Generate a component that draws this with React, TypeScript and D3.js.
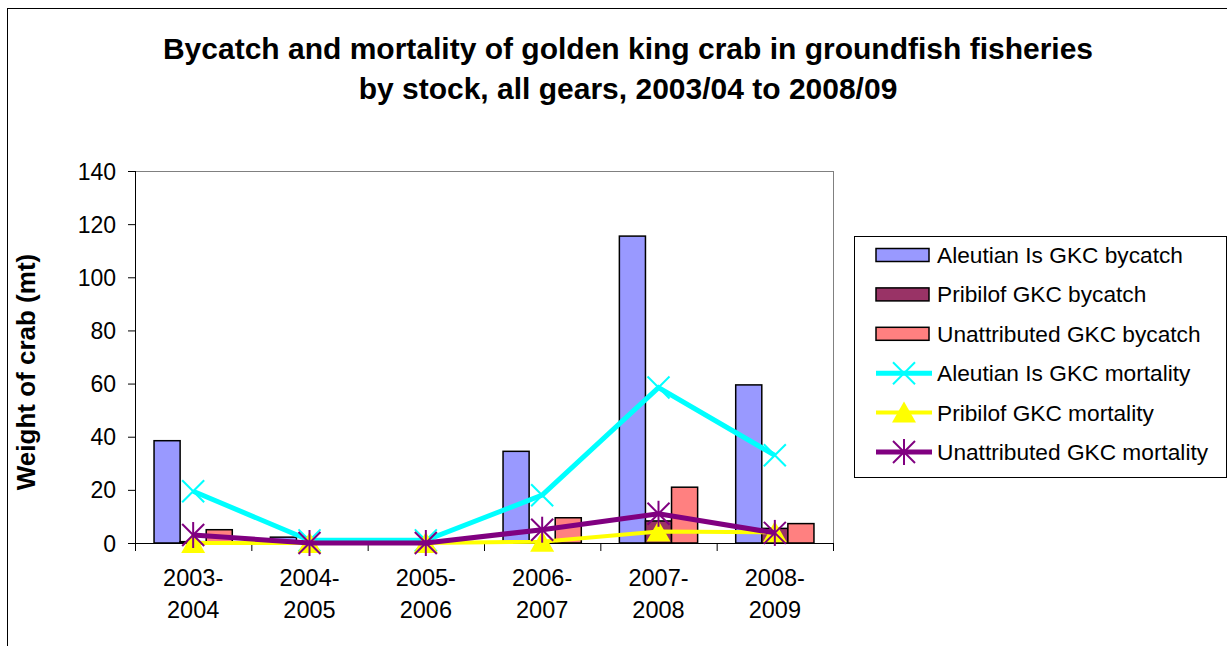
import React from "react";
import * as d3 from "d3";

const categories = ["2003-2004", "2004-2005", "2005-2006", "2006-2007", "2007-2008", "2008-2009"];
const barSeries = ["Aleutian Is GKC bycatch", "Pribilof GKC bycatch", "Unattributed GKC bycatch"];
const aleutianBycatch = [38.5, 2.2, 1.5, 34.5, 115.5, 59.5];
const pribilofBycatch = [0.5, 0, 0, 0.5, 8.3, 5.5];
const unattribBycatch = [5, 0.3, 0.2, 9.5, 21, 7.3];
const aleutianMort = [19.5, 1, 1, 18, 58.5, 33];
const pribilofMort = [0, 0, 0, 0.5, 4.3, 4];
const unattribMort = [3, 0, 0, 5, 11, 3.8];
const yTicks = [0, 20, 40, 60, 80, 100, 120, 140];
const lineSeries = ["Aleutian Is GKC mortality", "Pribilof GKC mortality", "Unattributed GKC mortality"];

const barColors = ["#9999FF", "#993366", "#FF8080"];
const lineColors = ["#00FFFF", "#FFFF00", "#800080"];
const FONT = "Liberation Sans, Arial, sans-serif";

function Marker({ kind, x, y, color }: { kind: number; x: number; y: number; color: string }) {
  const s = 11;
  if (kind === 0) {
    return (
      <g stroke={color} strokeWidth={2}>
        <line x1={x - s} y1={y - s} x2={x + s} y2={y + s} />
        <line x1={x - s} y1={y + s} x2={x + s} y2={y - s} />
      </g>
    );
  }
  if (kind === 1) {
    return <path d={`M${x},${y - 11}L${x + 12},${y + 10}L${x - 12},${y + 10}Z`} fill={color} />;
  }
  return (
    <g stroke={color} strokeWidth={2}>
      <line x1={x - s} y1={y - s} x2={x + s} y2={y + s} />
      <line x1={x - s} y1={y + s} x2={x + s} y2={y - s} />
      <line x1={x} y1={y - s - 2} x2={x} y2={y + s + 2} />
    </g>
  );
}

export default function App() {
  const left = 135, right = 833, top = 171, bottom = 543;
  const x = d3.scaleBand<string>().domain(categories).range([left, right]).padding(0);
  const y = d3.scaleLinear().domain([0, 140]).range([bottom, top]);
  const inner = d3.scaleBand<string>().domain(barSeries).range([0, x.bandwidth()]).paddingInner(0).paddingOuter(0.73);
  const barData = [aleutianBycatch, pribilofBycatch, unattribBycatch];
  const lineData = [aleutianMort, pribilofMort, unattribMort];
  const lineWidths = [5, 4, 5];
  const cx = (c: string) => (x(c) as number) + x.bandwidth() / 2;
  const lineGen = (vals: number[]) =>
    d3.line<number>().x((_, i) => cx(categories[i])).y((v) => y(v))(vals) as string;

  const legendX = 854, legendY = 236, legendW = 372, legendH = 241;
  const rowY = (i: number) => 255 + i * 39.4;

  return (
    <svg width={1227} height={646} style={{ position: "absolute", left: 0, top: 0, background: "#fff" }} fontFamily={FONT}>
      <rect x={7.5} y={8.5} width={1400} height={800} fill="#fff" stroke="#000" strokeWidth={1} />
      <text x={628} y={59} textAnchor="middle" fontWeight="bold" fontSize={30}>
        Bycatch and mortality of golden king crab in groundfish fisheries
      </text>
      <text x={628} y={99} textAnchor="middle" fontWeight="bold" fontSize={30}>
        by stock, all gears, 2003/04 to 2008/09
      </text>

      {/* plot border */}
      <line x1={left} y1={top + 0.5} x2={right} y2={top + 0.5} stroke="#808080" />
      <line x1={right + 0.5} y1={top} x2={right + 0.5} y2={bottom} stroke="#808080" />

      {/* bars */}
      {barData.map((vals, si) =>
        vals.map((v, i) => {
          const bx = (x(categories[i]) as number) + (inner(barSeries[si]) as number);
          return (
            <rect key={`${si}-${i}`} x={bx} y={y(v)} width={inner.bandwidth()} height={bottom - y(v)}
              fill={barColors[si]} stroke="#000" strokeWidth={1.5} />
          );
        })
      )}

      {/* axes */}
      <line x1={left + 0.5} y1={top} x2={left + 0.5} y2={bottom} stroke="#000" />
      <line x1={left} y1={bottom + 0.5} x2={right} y2={bottom + 0.5} stroke="#000" />
      {yTicks.map((t) => (
        <g key={t}>
          <line x1={left - 7} x2={left} y1={y(t) + 0.5} y2={y(t) + 0.5} stroke="#000" />
          <text x={116} y={y(t) + 8.5} textAnchor="end" fontSize={23}>{t}</text>
        </g>
      ))}
      {categories.map((c, i) => (
        <g key={c}>
          <line x1={(x(c) as number) + x.bandwidth() + 0.5} x2={(x(c) as number) + x.bandwidth() + 0.5}
            y1={bottom} y2={bottom + 8} stroke="#000" />
          {i === 0 && <line x1={left + 0.5} x2={left + 0.5} y1={bottom} y2={bottom + 8} stroke="#000" />}
          <text x={cx(c)} y={586} textAnchor="middle" fontSize={23.5}>{c.split("-")[0] + "-"}</text>
          <text x={cx(c)} y={618} textAnchor="middle" fontSize={23.5}>{c.split("-")[1]}</text>
        </g>
      ))}
      <text transform={`translate(35,372) rotate(-90)`} textAnchor="middle" fontWeight="bold" fontSize={26}>
        Weight of crab (mt)
      </text>

      {/* lines */}
      {lineData.map((vals, si) => (
        <g key={si}>
          <path d={lineGen(vals)} fill="none" stroke={lineColors[si]} strokeWidth={lineWidths[si]} />
          {vals.map((v, i) => (
            <Marker key={i} kind={si} x={cx(categories[i])} y={y(v)} color={lineColors[si]} />
          ))}
        </g>
      ))}

      {/* legend */}
      <rect x={legendX + 0.5} y={legendY + 0.5} width={legendW} height={legendH} fill="#fff" stroke="#000" />
      {barSeries.map((s, i) => (
        <g key={s}>
          <rect x={876} y={rowY(i) - 6.5} width={53} height={13} fill={barColors[i]} stroke="#000" strokeWidth={1.5} />
          <text x={937} y={rowY(i) + 8} fontSize={22.7}>{s}</text>
        </g>
      ))}
      {lineSeries.map((s, i) => (
        <g key={s}>
          <line x1={876} x2={932} y1={rowY(i + 3)} y2={rowY(i + 3)} stroke={lineColors[i]} strokeWidth={lineWidths[i]} />
          <Marker kind={i} x={904} y={rowY(i + 3)} color={lineColors[i]} />
          <text x={937} y={rowY(i + 3) + 8} fontSize={22.7}>{s}</text>
        </g>
      ))}
    </svg>
  );
}
